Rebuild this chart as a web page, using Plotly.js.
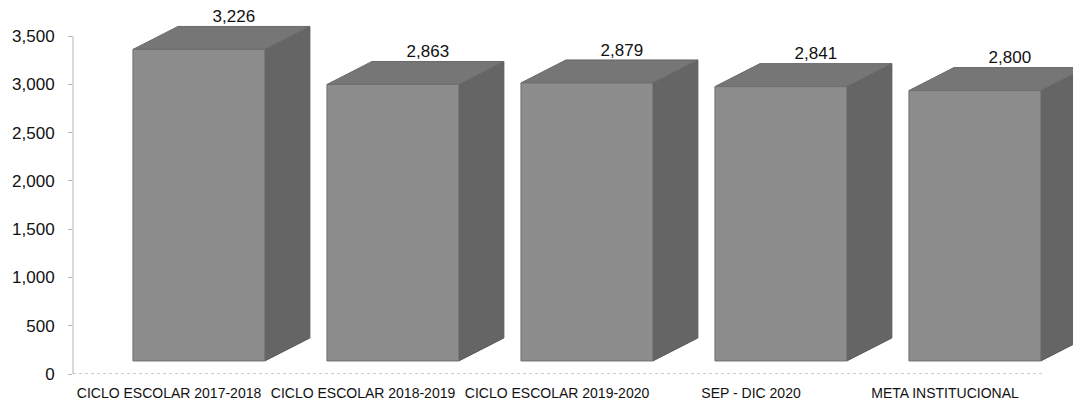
<!DOCTYPE html>
<html>
<head>
<meta charset="utf-8">
<script src="https://cdn.plot.ly/plotly-3.0.1.min.js"></script>
<style>
  html, body { margin: 0; padding: 0; background: #ffffff; }
  #chart { width: 1073px; height: 405px; }
</style>
</head>
<body>
<div id="chart"></div>
<script>
// ---- Data ----
const categories = [
  "CICLO ESCOLAR 2017-2018",
  "CICLO ESCOLAR 2018-2019",
  "CICLO ESCOLAR 2019-2020",
  "SEP - DIC 2020",
  "META INSTITUCIONAL"
];
const values = [3226, 2863, 2879, 2841, 2800];
const yTickValues = [0, 500, 1000, 1500, 2000, 2500, 3000, 3500];
const yAxisMax = 3500;

// ---- 3D box geometry (style) ----
const FRONT_LEFT = -0.186;   // front face left edge relative to category
const FRONT_WIDTH = 0.68;    // front face width (category units)
const DEPTH_X = 0.232;       // depth offset in x (category units)
const DEPTH_Y = 238;         // depth offset in y (value units)
const BASE = 135;            // floor lift of front face (value units)

const faceFront = {x: [], y: []}, faceTop = {x: [], y: []}, faceSide = {x: [], y: []};
const labX = [], labY = [], labT = [];
values.forEach((v, i) => {
  const L = i + FRONT_LEFT, R = L + FRONT_WIDTH;
  const yb = BASE, yt = v + BASE;
  faceFront.x.push(L, L, R, R, L, null);
  faceFront.y.push(yb, yt, yt, yb, yb, null);
  faceTop.x.push(L, L + DEPTH_X, R + DEPTH_X, R, L, null);
  faceTop.y.push(yt, yt + DEPTH_Y, yt + DEPTH_Y, yt, yt, null);
  faceSide.x.push(R, R, R + DEPTH_X, R + DEPTH_X, R, null);
  faceSide.y.push(yb, yt, yt + DEPTH_Y, yb + DEPTH_Y, yb, null);
  labX.push(i + FRONT_LEFT + 0.52);
  labY.push(yt + DEPTH_Y);
  labT.push(v.toLocaleString('en-US'));
});

const FONT = '"Liberation Sans", Arial, sans-serif';

const traces = [
  {type: 'scatter', mode: 'lines', x: faceSide.x, y: faceSide.y, fill: 'toself',
   fillcolor: '#656565', line: {color: '#595959', width: 1}, hoverinfo: 'skip', showlegend: false},
  {type: 'scatter', mode: 'lines', x: faceTop.x, y: faceTop.y, fill: 'toself',
   fillcolor: '#767676', line: {color: '#6a6a6a', width: 1}, hoverinfo: 'skip', showlegend: false},
  {type: 'scatter', mode: 'lines', x: faceFront.x, y: faceFront.y, fill: 'toself',
   fillcolor: '#8d8d8d',
   line: {color: '#6f6f6f', width: 1}, hoverinfo: 'skip', showlegend: false},
  {type: 'scatter', mode: 'text', x: labX, y: labY, text: labT,
   textposition: 'top center', cliponaxis: false,
   textfont: {family: FONT, size: 17, color: '#111111'},
   hoverinfo: 'skip', showlegend: false}
];

// plot area: 3500 sits at 36px from top, 0 at 374px; extra headroom above for the 3D tops
const PX_PER_UNIT = 338 / yAxisMax;
const TOP_MARGIN = 5;
const plotH = 405 - TOP_MARGIN - 31;
const yTop = plotH / PX_PER_UNIT;

const layout = {
  width: 1073, height: 405,
  margin: {l: 73, r: 0, t: TOP_MARGIN, b: 31},
  paper_bgcolor: '#ffffff', plot_bgcolor: '#ffffff',
  showlegend: false,
  xaxis: {
    range: [-0.495, -0.495 + 1000 / 194],
    tickvals: categories.map((c, i) => i),
    ticktext: categories,
    showgrid: false, zeroline: false, showline: false,
    ticks: '', ticklabelstandoff: 9,
    tickfont: {family: FONT, size: 14, color: '#111111'},
    fixedrange: true
  },
  yaxis: {
    range: [0, yTop],
    tickvals: yTickValues,
    tickformat: ',',
    showgrid: false, zeroline: false,
    showline: false,
    ticks: 'outside', ticklen: 4, tickcolor: '#b5b5b5',
    ticklabelstandoff: 10,
    tickfont: {family: FONT, size: 17, color: '#111111'},
    fixedrange: true
  },
  shapes: [
    {type: 'line', xref: 'paper', yref: 'y', x0: 0, x1: 0, y0: 0, y1: yAxisMax,
     line: {color: '#b5b5b5', width: 1}},
    {type: 'line', xref: 'paper', yref: 'y', x0: 0, x1: 0.969, y0: 0, y1: 0,
     line: {color: '#9a9a9a', width: 1, dash: 'dot'}}
  ]
};

Plotly.newPlot('chart', traces, layout, {staticPlot: true, displayModeBar: false});
</script>
</body>
</html>
